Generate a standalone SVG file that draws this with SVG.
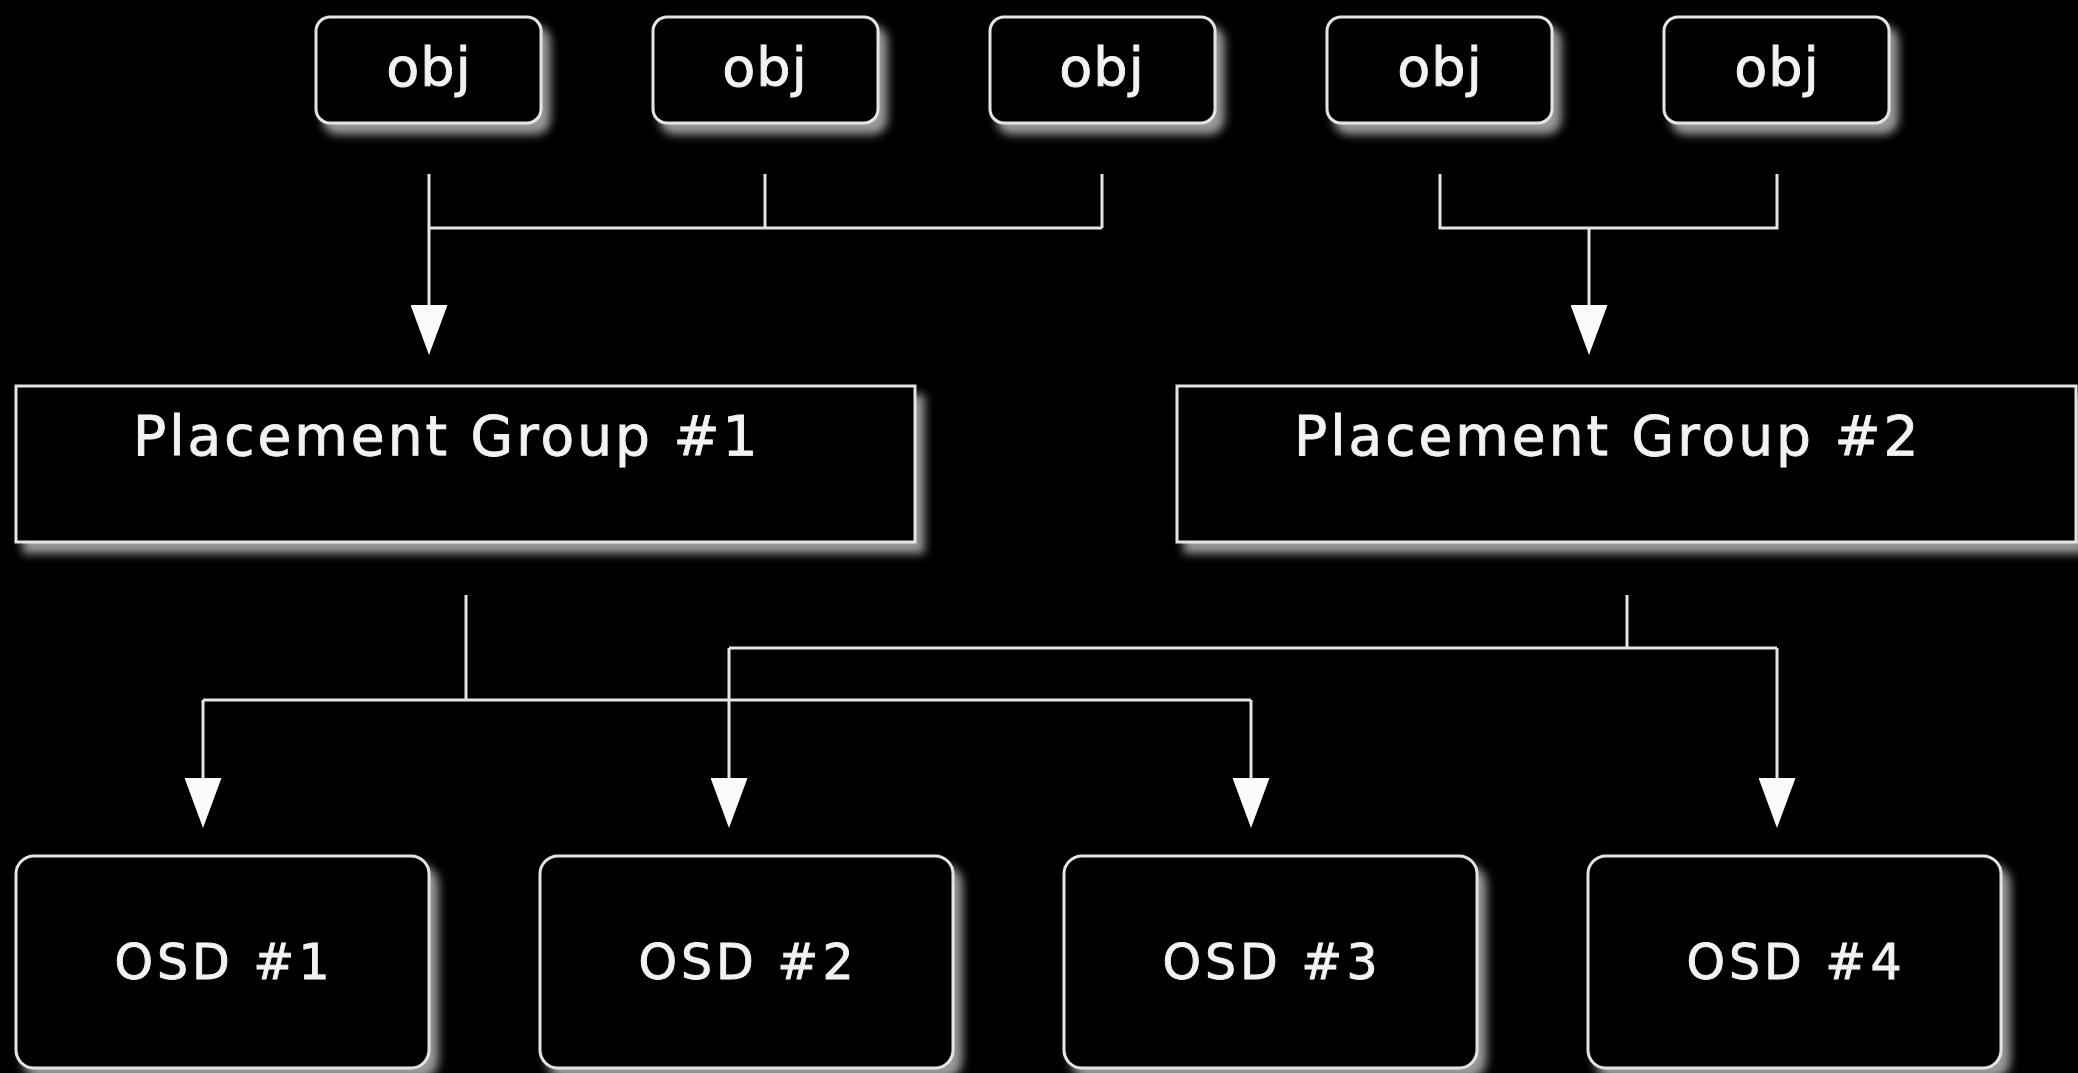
<svg xmlns="http://www.w3.org/2000/svg" width="2078" height="1073" viewBox="0 0 2078 1073">
<defs>
<style>
.box{fill:#000;stroke:#e4e4e4;stroke-width:3;filter:url(#sh)}
.lbl{fill:#f2f2f2;stroke:#f2f2f2;stroke-width:0.9;font-family:"DejaVu Sans","Liberation Sans",sans-serif}
.obj{font-size:54px;text-anchor:middle;letter-spacing:1px}
.pg{font-size:55px;letter-spacing:3px}
.osd{font-size:49px;text-anchor:middle;letter-spacing:4px}
.ln{fill:none;stroke:#e4e4e4;stroke-width:3}
.ar{marker-end:url(#ah)}
</style>
<filter id="sh" x="-10%" y="-10%" width="130%" height="140%">
<feGaussianBlur in="SourceAlpha" stdDeviation="5" result="b"/>
<feOffset in="b" dx="8" dy="10" result="o"/>
<feFlood flood-color="#9a9a9a"/>
<feComposite in2="o" operator="in" result="s"/>
<feMerge><feMergeNode in="s"/><feMergeNode in="SourceGraphic"/></feMerge>
</filter>
<marker id="ah" markerUnits="userSpaceOnUse" markerWidth="40" markerHeight="52" refX="18.5" refY="0" viewBox="0 0 40 52">
<path d="M0,0 L37,0 L18.5,50 Z" fill="#fafafa"/>
</marker>
</defs>
<rect width="2078" height="1073" fill="#000"/>

<g id="connectors">
<path class="ln" d="M429,174 V228 M765,174 V228 M1102,174 V228 M429,228 H1102"/>
<path class="ln ar" d="M429,228 V305"/>
<path class="ln" d="M1440,174 V228 H1777 V174"/>
<path class="ln ar" d="M1589,228 V305"/>
<path class="ln" d="M466,595 V700 M203,700 H1251"/>
<path class="ln ar" d="M203,700 V778"/>
<path class="ln ar" d="M1251,700 V778"/>
<path class="ln" d="M1627,595 V648 M729,648 H1777"/>
<path class="ln ar" d="M729,648 V778"/>
<path class="ln ar" d="M1777,648 V778"/>
</g>

<g id="obj1"><rect class="box" x="316" y="17" width="225" height="106" rx="14"/><text class="lbl obj" x="429" y="86">obj</text></g>
<g id="obj2"><rect class="box" x="653" y="17" width="225" height="106" rx="14"/><text class="lbl obj" x="765" y="86">obj</text></g>
<g id="obj3"><rect class="box" x="990" y="17" width="225" height="106" rx="14"/><text class="lbl obj" x="1102" y="86">obj</text></g>
<g id="obj4"><rect class="box" x="1327" y="17" width="225" height="106" rx="14"/><text class="lbl obj" x="1440" y="86">obj</text></g>
<g id="obj5"><rect class="box" x="1664" y="17" width="225" height="106" rx="14"/><text class="lbl obj" x="1777" y="86">obj</text></g>

<g id="pg1"><rect class="box" x="16" y="386" width="899" height="156"/><text class="lbl pg" x="133" y="455">Placement Group #1</text></g>
<g id="pg2"><rect class="box" x="1177" y="386" width="899" height="156"/><text class="lbl pg" x="1294" y="455">Placement Group #2</text></g>

<g id="osd1"><rect class="box" x="16" y="856" width="413" height="212" rx="18"/><text class="lbl osd" x="224" y="979">OSD #1</text></g>
<g id="osd2"><rect class="box" x="540" y="856" width="413" height="212" rx="18"/><text class="lbl osd" x="748" y="979">OSD #2</text></g>
<g id="osd3"><rect class="box" x="1064" y="856" width="413" height="212" rx="18"/><text class="lbl osd" x="1272" y="979">OSD #3</text></g>
<g id="osd4"><rect class="box" x="1588" y="856" width="413" height="212" rx="18"/><text class="lbl osd" x="1796" y="979">OSD #4</text></g>
</svg>
